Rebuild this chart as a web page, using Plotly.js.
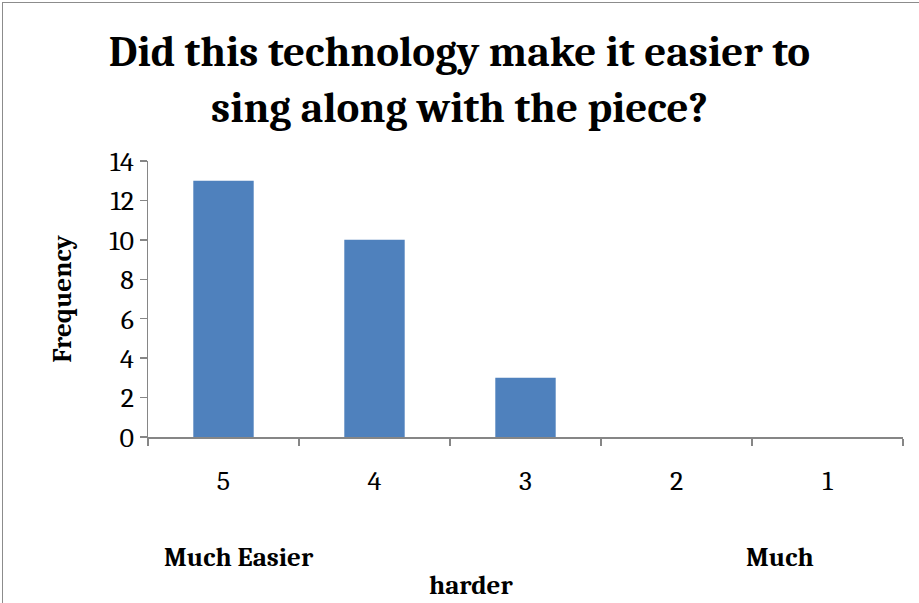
<!DOCTYPE html>
<html>
<head>
<meta charset="utf-8">
<script src="https://cdn.plot.ly/plotly-3.0.1.min.js"></script>
<style>
html,body{margin:0;padding:0;background:#fff;overflow:hidden;}
#frame{position:absolute;left:2px;top:2px;width:940px;height:640px;border-left:1.5px solid #8c8c8c;border-top:1.5px solid #8c8c8c;pointer-events:none;}
#chart{position:absolute;left:0;top:0;width:919px;height:603px;}
</style>
</head>
<body>
<div id="chart"></div>
<div id="frame"></div>
<script>
const categories = ["5", "4", "3", "2", "1"];
const frequency = [13, 10, 3, 0, 0];
const yTicks = [0, 2, 4, 6, 8, 10, 12, 14];
const titleText = "Did this technology make it easier to<br>sing along with the piece?";
const yTitle = "Frequency";
const xTitleLeft = "Much Easier";
const xTitleRight = "Much";
const xTitleWrap = "harder";

const serif = "Cambria, Caladea, 'Liberation Serif', 'DejaVu Serif', serif";
const axisColor = "#868686";

const data = [{
  type: "bar",
  x: categories,
  y: frequency,
  marker: {color: "#4F81BD"},
  hoverinfo: "x+y"
}];

const layout = {
  width: 919,
  height: 603,
  margin: {l: 148, r: 16, t: 161, b: 166},
  paper_bgcolor: "#ffffff",
  plot_bgcolor: "#ffffff",
  bargap: 0.6,
  showlegend: false,
  title: {
    text: titleText,
    font: {family: serif, size: 43, color: "#000000", weight: "bold"},
    x: 0.5,
    xanchor: "center",
    yref: "container",
    y: 0.89,
    yanchor: "top"
  },
  xaxis: {
    type: "category",
    categoryorder: "array",
    categoryarray: categories,
    showline: true,
    linecolor: axisColor,
    linewidth: 1.5,
    ticks: "outside",
    tickson: "boundaries",
    ticklen: 7,
    tickcolor: axisColor,
    tickwidth: 1.5,
    ticklabelstandoff: 18,
    tickfont: {family: serif, size: 28, color: "#000000"},
    showgrid: false,
    zeroline: false,
    fixedrange: true
  },
  yaxis: {
    range: [0, 14],
    tickvals: yTicks,
    ticktext: yTicks.map(String),
    showline: true,
    linecolor: axisColor,
    linewidth: 1.5,
    ticks: "outside",
    ticklen: 7,
    tickcolor: axisColor,
    tickwidth: 1.5,
    tickfont: {family: serif, size: 28, color: "#000000"},
    showgrid: false,
    zeroline: false,
    fixedrange: true,
    title: {
      text: yTitle,
      font: {family: serif, size: 27, color: "#000000", weight: "bold"},
      standoff: 30
    }
  },
  annotations: [
    {text: xTitleLeft, xref: "paper", yref: "paper", x: (239 - 148) / 755, y: -(557 - 437) / 276,
     xanchor: "center", yanchor: "middle", showarrow: false,
     font: {family: serif, size: 27, color: "#000000", weight: "bold"}},
    {text: xTitleRight, xref: "paper", yref: "paper", x: (780 - 148) / 755, y: -(557 - 437) / 276,
     xanchor: "center", yanchor: "middle", showarrow: false,
     font: {family: serif, size: 27, color: "#000000", weight: "bold"}},
    {text: xTitleWrap, xref: "paper", yref: "paper", x: (471 - 148) / 755, y: -(585 - 437) / 276,
     xanchor: "center", yanchor: "middle", showarrow: false,
     font: {family: serif, size: 27, color: "#000000", weight: "bold"}}
  ]
};

Plotly.newPlot("chart", data, layout, {displayModeBar: false, staticPlot: true});
</script>
</body>
</html>
